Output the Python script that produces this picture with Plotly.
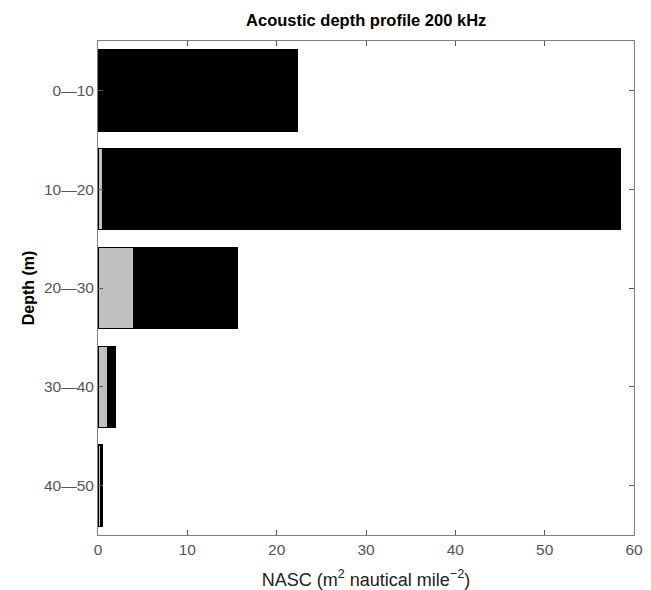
import plotly.graph_objects as go

categories = ["0—10", "10—20", "20—30", "30—40", "40—50"]
gray_part = [0.0, 0.5, 4.0, 1.1, 0.25]
black_part = [22.3, 58.0, 11.6, 0.9, 0.25]
x_ticks = [0, 10, 20, 30, 40, 50, 60]

fig = go.Figure()
fig.add_trace(go.Bar(
    y=categories, x=gray_part, orientation="h",
    marker=dict(color="#c0c0c0", line=dict(color="black", width=1.2)),
    width=0.82, showlegend=False,
))
fig.add_trace(go.Bar(
    y=categories, x=black_part, orientation="h",
    marker=dict(color="black", line=dict(color="black", width=1.2)),
    width=0.82, showlegend=False,
))

fig.update_layout(
    barmode="stack",
    width=651, height=590,
    margin=dict(l=98, r=17, t=41, b=55),
    paper_bgcolor="white", plot_bgcolor="white",
    font=dict(family="Liberation Sans, Arial, sans-serif", color="#555555"),
    title=dict(text="<b>Acoustic depth profile 200 kHz</b>", x=0.5625, xanchor="center",
               y=0.966, yanchor="middle",
               font=dict(size=16.5, color="black", family="Liberation Sans, Arial, sans-serif")),
)
fig.update_xaxes(
    range=[0, 60], tickvals=x_ticks, ticktext=[str(v) for v in x_ticks],
    ticks="inside", ticklen=5, tickcolor="#555555", tickwidth=1,
    showline=True, linecolor="#808080", linewidth=1, mirror="ticks",
    showgrid=False, zeroline=False, automargin=False,
    tickfont=dict(size=15.5, color="#555555"),
    title=dict(text="NASC (m<sup>2</sup> nautical mile<sup>−2</sup>)", standoff=16,
               font=dict(size=18, color="#222222")),
)
fig.update_yaxes(
    categoryorder="array", categoryarray=categories,
    range=[4.5, -0.5],
    ticks="inside", ticklen=5, tickcolor="#555555", tickwidth=1,
    showline=True, linecolor="#808080", linewidth=1, mirror="ticks",
    showgrid=False, zeroline=False, automargin=False,
    tickfont=dict(size=15.5, color="#555555"),
    title=dict(text="<b>Depth (m)</b>", standoff=5,
               font=dict(size=16, color="black")),
)

fig.write_html("out.html")
